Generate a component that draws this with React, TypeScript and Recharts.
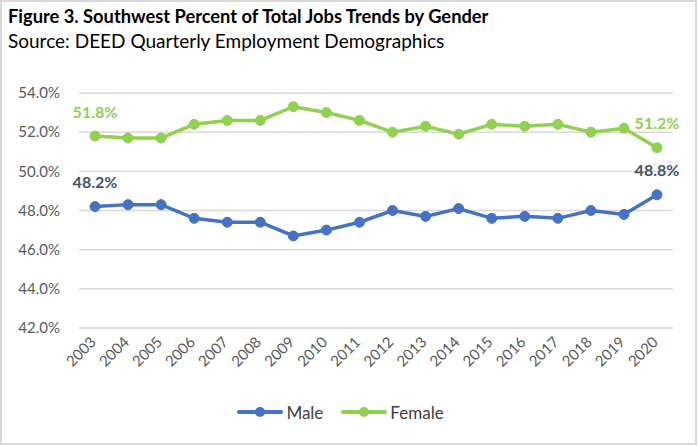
import { LineChart, Line, XAxis, YAxis, CartesianGrid, Legend, LabelList } from 'recharts';

const years = ['2003', '2004', '2005', '2006', '2007', '2008', '2009', '2010', '2011', '2012', '2013', '2014', '2015', '2016', '2017', '2018', '2019', '2020'];
const maleShare = [48.2, 48.3, 48.3, 47.6, 47.4, 47.4, 46.7, 47.0, 47.4, 48.0, 47.7, 48.1, 47.6, 47.7, 47.6, 48.0, 47.8, 48.8];
const femaleShare = [51.8, 51.7, 51.7, 52.4, 52.6, 52.6, 53.3, 53.0, 52.6, 52.0, 52.3, 51.9, 52.4, 52.3, 52.4, 52.0, 52.2, 51.2];
const yTicks = [42, 44, 46, 48, 50, 52, 54];
const seriesOrder = ['Male', 'Female'];

const MALE = '#4472C4';
const FEMALE = '#92D050';
const FONT = 'Lato, "DejaVu Sans", sans-serif';

const data = years.map((year, i) => ({ year, male: maleShare[i], female: femaleShare[i] }));

const YearTick = ({ x, y, payload }: any) => (
  <text
    x={x + 2}
    y={y + 15}
    textAnchor="end"
    transform={`rotate(-45 ${x + 2} ${y + 15})`}
    fontFamily={FONT}
    fontSize={15}
    fill="#595959"
  >
    {payload.value}
  </text>
);

// only first and last points get a value label
const endLabel = (color: string) => (props: any) => {
  const { x, y, index, value } = props;
  if (index !== 0 && index !== years.length - 1) return null;
  return (
    <text x={x} y={y - 25} textAnchor="middle" dominantBaseline="central" fontFamily={FONT} fontSize={16} fontWeight="bold" fill={color}>
      {Number(value).toFixed(1)}%
    </text>
  );
};

const LegendContent = ({ payload }: any) => {
  const items = [...(payload || [])].sort((a: any, b: any) => seriesOrder.indexOf(a.value) - seriesOrder.indexOf(b.value));
  return (
    <div style={{ display: 'flex', justifyContent: 'center', height: 24, alignItems: 'center', fontFamily: FONT, fontSize: 17, color: '#404040' }}>
      {items.map((entry: any) => (
        <div key={entry.value} style={{ display: 'flex', alignItems: 'center', margin: '0 9px' }}>
          <svg width={46} height={14} style={{ marginRight: 3 }}>
            <line x1={2} y1={7} x2={44} y2={7} stroke={entry.color} strokeWidth={4} strokeLinecap="round" />
            <circle cx={23} cy={7} r={5} fill={entry.color} />
          </svg>
          <span>{entry.value}</span>
        </div>
      ))}
    </div>
  );
};

export default function App() {
  return (
    <div style={{ position: 'absolute', left: 0, top: 0, width: 698, height: 446, background: '#fff' }}>
      <LineChart width={698} height={446} data={data} margin={{ top: 93, right: 25, bottom: 22, left: 8 }}>
        <CartesianGrid vertical={false} stroke="#d9d9d9" strokeWidth={1.5} />
        <XAxis
          dataKey="year"
          padding={{ left: 16, right: 16 }}
          axisLine={{ stroke: '#d9d9d9', strokeWidth: 1.5 }}
          tickLine={false}
          tickSize={0}
          tickMargin={0}
          height={72}
          interval={0}
          tick={<YearTick />}
        />
        <YAxis
          domain={[42, 54]}
          ticks={yTicks}
          width={71}
          axisLine={false}
          tickLine={false}
          tickSize={0}
          tickMargin={19}
          tickFormatter={(v: number) => `${v.toFixed(1)}%`}
          tick={{ fontFamily: FONT, fontSize: 15, fill: '#595959' }}
        />
        <Legend verticalAlign="bottom" content={<LegendContent />} />
        <Line type="linear" dataKey="male" name="Male" stroke={MALE} strokeWidth={3.5} dot={{ r: 5, fill: MALE, stroke: MALE, strokeWidth: 1 }} activeDot={false} isAnimationActive={false}>
          <LabelList dataKey="male" content={endLabel('#44546A')} />
        </Line>
        <Line type="linear" dataKey="female" name="Female" stroke={FEMALE} strokeWidth={3.5} dot={{ r: 5, fill: FEMALE, stroke: FEMALE, strokeWidth: 1 }} activeDot={false} isAnimationActive={false}>
          <LabelList dataKey="female" content={endLabel(FEMALE)} />
        </Line>
      </LineChart>
      <div style={{ position: 'absolute', left: 8, top: 5, fontFamily: FONT, fontSize: 18.3, fontWeight: 'bold', color: '#000', whiteSpace: 'nowrap' }}>
        Figure 3. Southwest Percent of Total Jobs Trends by Gender
      </div>
      <div style={{ position: 'absolute', left: 8, top: 29, fontFamily: FONT, fontSize: 19, color: '#000', whiteSpace: 'nowrap' }}>
        Source: DEED Quarterly Employment Demographics
      </div>
      <div style={{ position: 'absolute', left: 0, top: 0, width: 697, height: 445, boxSizing: 'border-box', border: '2px solid #d9d9d9', pointerEvents: 'none' }} />
    </div>
  );
}
